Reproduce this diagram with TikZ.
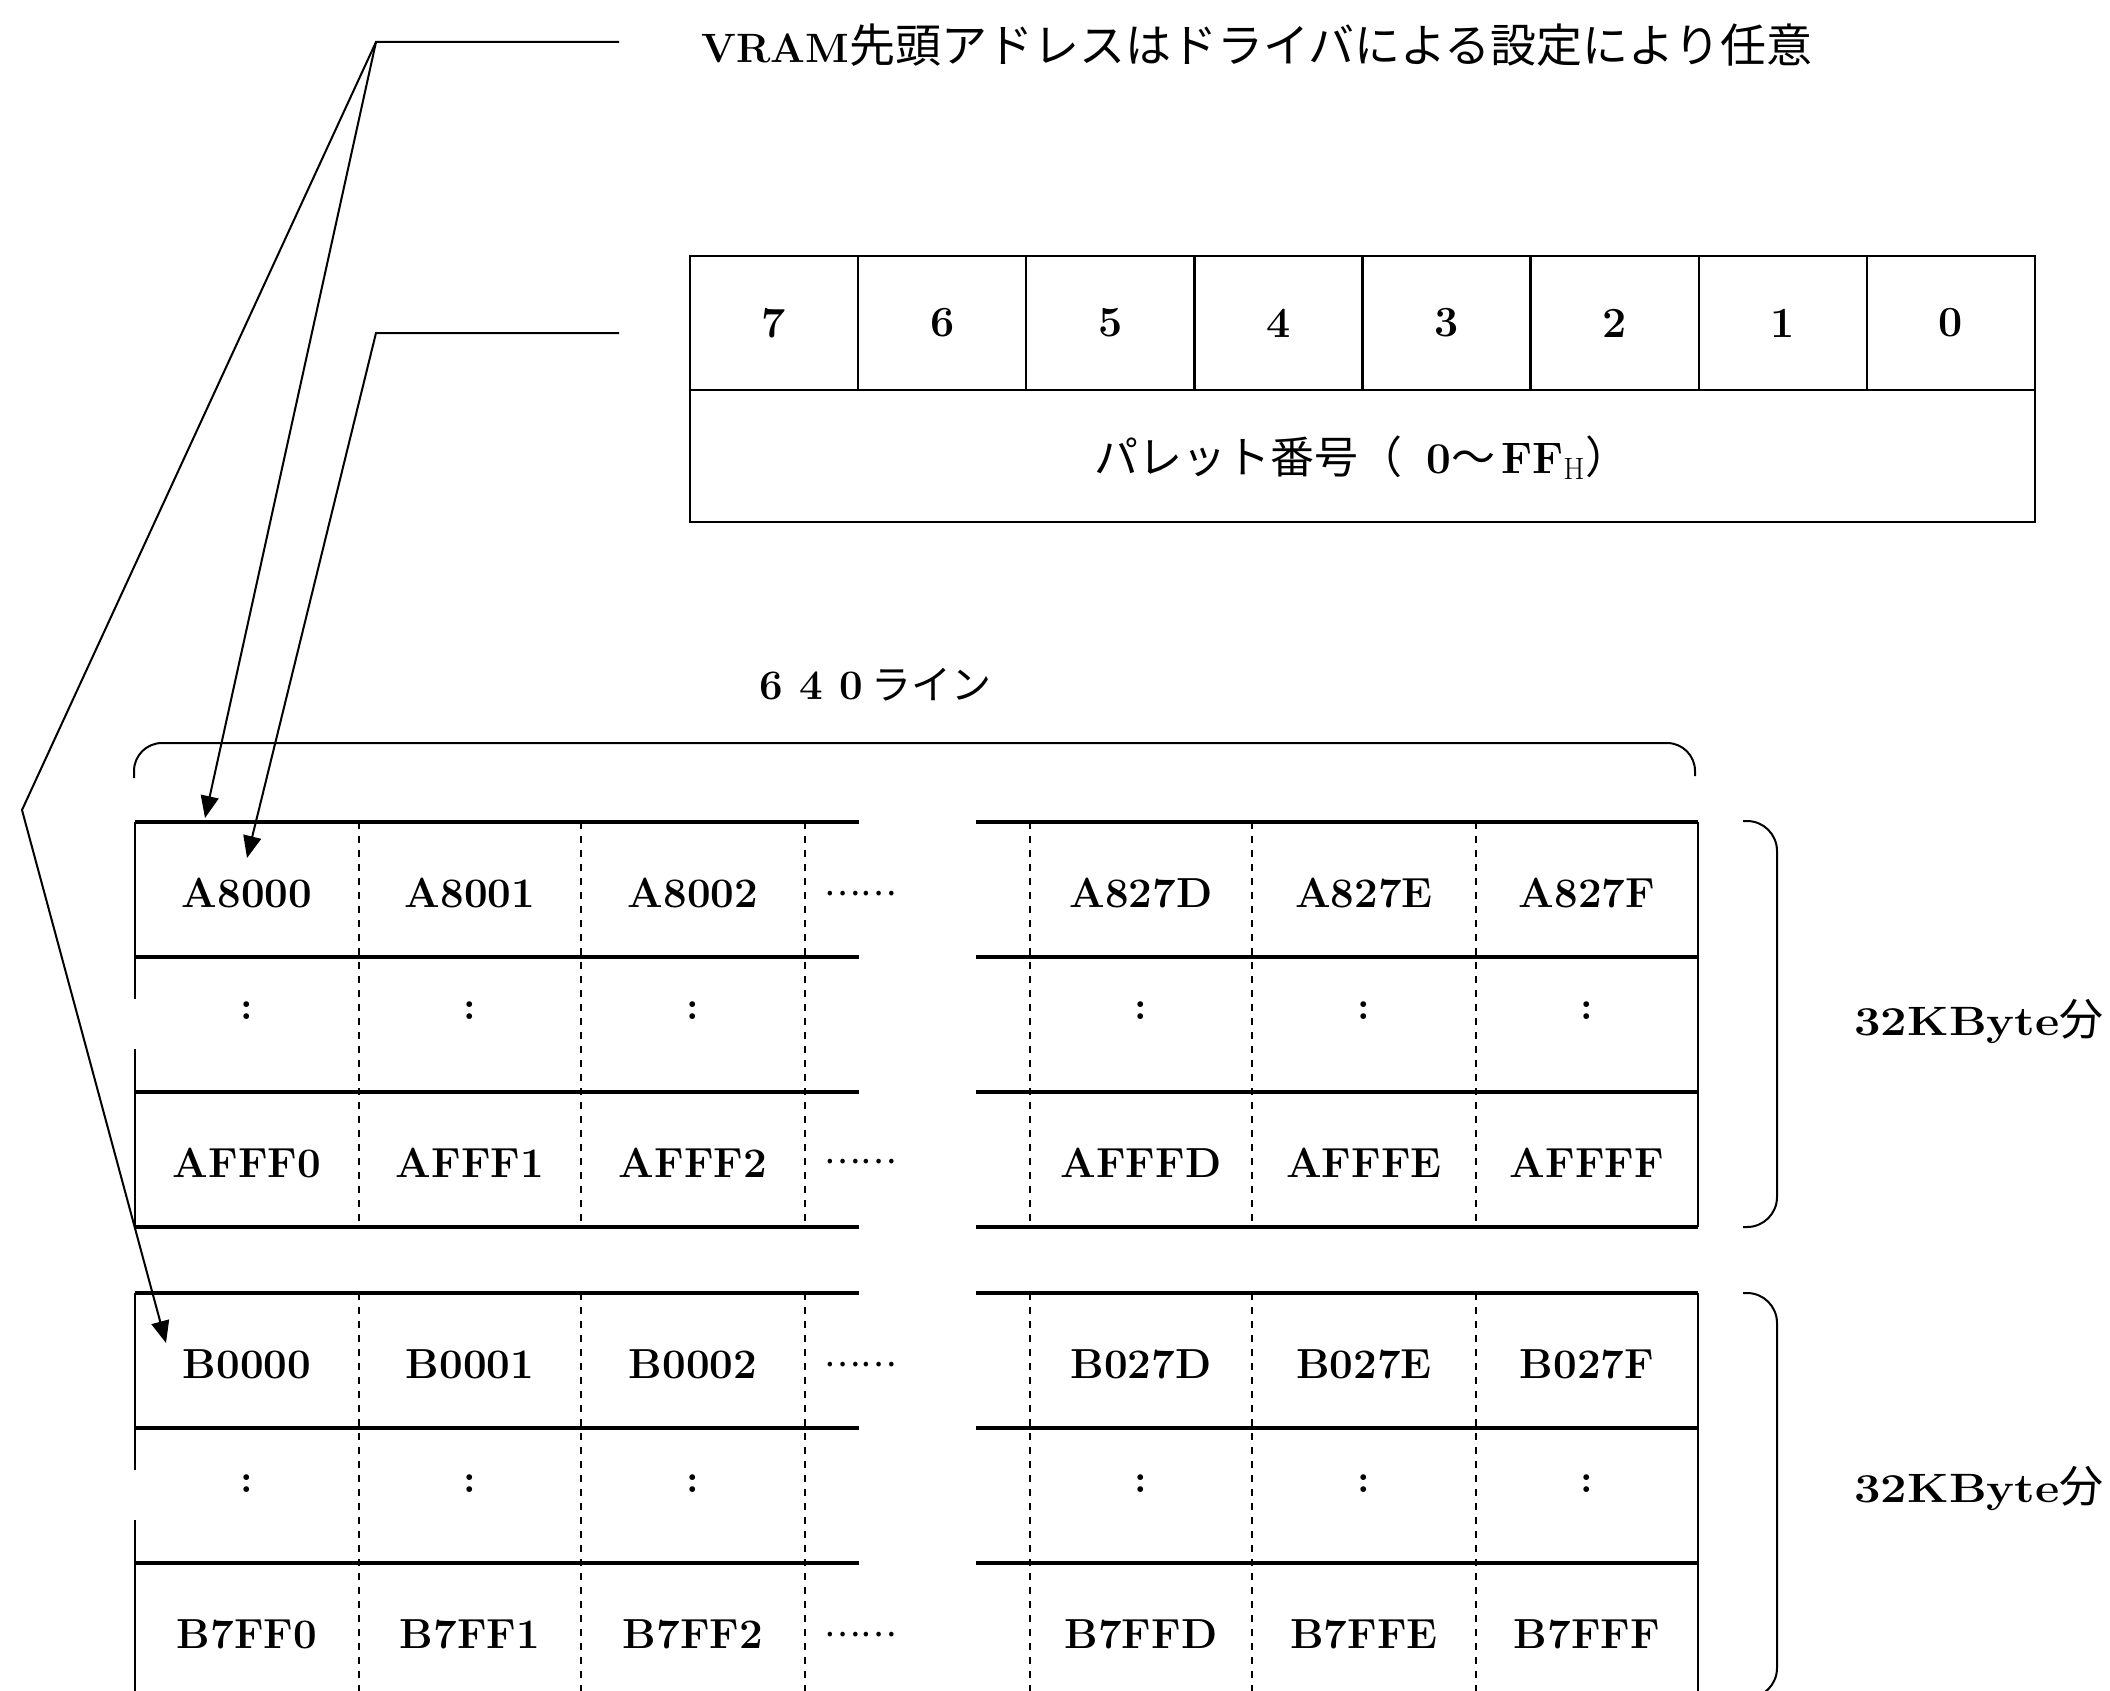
\documentclass[tikz,border=0pt]{standalone}
\usepackage{fontspec}
\usepackage{graphicx}
\newfontfamily\jp{Noto Sans CJK JP}
\usetikzlibrary{arrows.meta}
\tikzset{
  lead/.style={line width=1pt},
  arr/.style={line width=1pt,-{Triangle[length=11pt,width=9pt]}},
  boxline/.style={line width=1.2pt},
  hrow/.style={line width=1.6pt},
  vborder/.style={line width=1pt},
  vdash/.style={line width=0.8pt,dash pattern=on 3.5pt off 3.5pt},
  addr/.style={anchor=base,inner sep=0pt,font=\fontsize{21}{24}\selectfont\bfseries},
  dig/.style={inner sep=0pt,font=\fontsize{21.5}{26}\selectfont\bfseries},
  colon/.style={inner sep=0pt,font=\fontsize{20}{24}\selectfont\bfseries},
  ell/.style={inner sep=0pt,font=\fontsize{17}{20}\selectfont\jp},
  brk/.style={line width=1pt},
  lbl/.style={anchor=base west,inner sep=0pt},
}
\newcommand\memgrid[1]{%
  \foreach \r in {0,1,2,3} {
    \draw[hrow] (135,{#1+\r*135}) -- (859,{#1+\r*135});
    \draw[hrow] (976,{#1+\r*135}) -- (1698,{#1+\r*135});
  }
  \draw[vborder] (135,#1) -- (135,{#1+177});
  \draw[vborder] (135,{#1+227}) -- (135,{#1+405});
  \draw[vborder] (1698,#1) -- (1698,{#1+405});
  \foreach \x in {359,581,805,1030,1252,1476}
    \draw[vdash] (\x,#1) -- (\x,{#1+405});
}
\begin{document}
\begin{tikzpicture}[x=0.5pt,y=-0.5pt]
\useasboundingbox (0,0) rectangle (2110,1691);
\fill[white] (0,0) rectangle (2110,1691);
\clip (0,0) rectangle (2110,1691);

% title
\node[lbl] (title) at (701,63) {{\fontsize{20.5}{26}\selectfont\bfseries VRAM}{\jp\fontsize{23}{26}\selectfont 先頭アドレスはドライバによる設定により任意}};

% leaders
\coordinate (h1) at (619,42);
\coordinate (k1) at (376,42);
\coordinate (h2) at (619,333);
\coordinate (k2) at (376,333);
\coordinate (kink) at (22,810);
\coordinate (t1) at (205,818);
\coordinate (t2) at (247,858);
\coordinate (t3) at (166,1343);
\draw[arr] (h1) -- (k1) -- (t1);
\draw[arr] (k1) -- (kink) -- (t3);
\draw[arr] (h2) -- (k2) -- (t2);

% palette box
\draw[boxline] (690,256) rectangle (2035,522);
\draw[boxline] (690,390) -- (2035,390);
\foreach \i in {1,...,7}
  \draw[boxline] ({690+\i*168.125},256) -- ({690+\i*168.125},390);
\foreach \i/\d in {0/7,1/6,2/5,3/4,4/3,5/2,6/1,7/0}
  \node[dig] (bit\d) at ({690+(\i+0.5)*168.125},323) {\d};
\node[lbl] (pal) at (1094,473) {\fontsize{22}{26}\selectfont{\jp パレット番号（}\hspace{12pt}{\bfseries 0}{\jp ～}\hspace{3pt}{\bfseries FF}$_{\mathrm{H}}${\jp ）}};

% 640 lines label and top brace
\node[lbl] (lines) at (751,699) {{\fontsize{21}{24}\selectfont\bfseries\makebox[20pt]{6}\makebox[20pt]{4}\makebox[20pt]{0}}{\jp\fontsize{20}{24}\selectfont ライン}};
\draw[brk,rounded corners=14pt] (134,778) -- (134,743) -- (1695,743) -- (1695,776);

% tables
\memgrid{822}
\memgrid{1293}

\foreach \x/\t [count=\i] in {247/A8000,470/A8001,693/A8002,1141/A827D,1364/A827E,1587/A827F}
  \node[addr] (a1-\i) at (\x,907) {\t};
\foreach \x/\t [count=\i] in {247/AFFF0,470/AFFF1,693/AFFF2,1141/AFFFD,1364/AFFFE,1587/AFFFF}
  \node[addr] (a3-\i) at (\x,1177) {\t};
\foreach \x/\t [count=\i] in {247/B0000,470/B0001,693/B0002,1141/B027D,1364/B027E,1587/B027F}
  \node[addr] (b1-\i) at (\x,1378) {\t};
\foreach \x/\t [count=\i] in {247/B7FF0,470/B7FF1,693/B7FF2,1141/B7FFD,1364/B7FFE,1587/B7FFF}
  \node[addr] (b3-\i) at (\x,1648) {\t};
\foreach \x [count=\i] in {247,470,693,1141,1364,1587} {
  \node[colon] (a2-\i) at (\x,1011) {:};
  \node[colon] (b2-\i) at (\x,1484) {:};
}
\node[ell] (ea1) at (860,894) {……};
\node[ell] (ea3) at (860,1162) {……};
\node[ell] (eb1) at (860,1365) {……};
\node[ell] (eb3) at (860,1635) {……};

% right brackets
\draw[brk,rounded corners=15pt] (1743,821) -- (1777,821) -- (1777,1227) -- (1743,1227);
\draw[brk,rounded corners=15pt] (1743,1293) -- (1777,1293) -- (1777,1698) -- (1743,1698);
\node[lbl] (kbA) at (1854,1035) {\scalebox{1.15}[1]{\fontsize{20.5}{24}\selectfont\bfseries 32KByte}{\jp\fontsize{22}{24}\selectfont 分}};
\node[lbl] (kbB) at (1854,1502) {\scalebox{1.15}[1]{\fontsize{20.5}{24}\selectfont\bfseries 32KByte}{\jp\fontsize{22}{24}\selectfont 分}};
\end{tikzpicture}
\end{document}
